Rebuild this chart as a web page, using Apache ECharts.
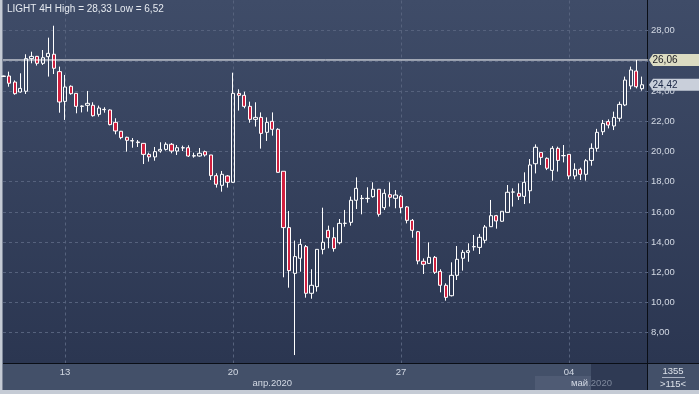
<!DOCTYPE html>
<html><head><meta charset="utf-8">
<script src="https://cdn.jsdelivr.net/npm/echarts@6/dist/echarts.min.js"></script>
<style>
html,body{margin:0;padding:0;background:#c5cbd5;}
#wrap{position:relative;width:699px;height:394px;overflow:hidden;background:#c5cbd5;}
.p{position:absolute;}
#chart{position:absolute;left:0;top:0;width:699px;height:394px;}
</style></head><body>
<div id="wrap">
 <div class="p" style="left:2px;top:0;width:646px;height:363px;background:linear-gradient(#3f4c68,#2b3651)"></div>
 <div class="p" style="left:648px;top:0;width:51px;height:363px;background:linear-gradient(#3f4c68,#2b3651)"></div>
 <div class="p" style="left:2px;top:363px;width:697px;height:27px;background:#435069"></div>
 <div class="p" style="left:535px;top:376px;width:56px;height:14px;background:#4f5b74"></div>
 <div class="p" style="left:591px;top:364px;width:56px;height:26px;background:#2f3a54"></div>
 <div class="p" style="left:2px;top:363px;width:697px;height:1px;background:#0a0e16"></div>
 <div class="p" style="left:647px;top:0;width:1px;height:390px;background:#0a0e16"></div>
 <div class="p" style="left:2px;top:0;width:1px;height:390px;background:#7f889a"></div>
 <div id="chart"></div>
</div>
<script>
const symbolName = 'LIGHT 4H';
const opens = [24.97,25.00,24.60,23.94,23.99,26.15,26.30,25.84,26.28,26.44,
25.29,23.32,24.32,23.85,22.99,23.06,23.06,22.46,22.79,22.75,
21.93,21.34,20.94,20.72,20.63,20.54,19.81,19.64,20.03,20.14,
20.48,20.03,20.25,20.25,19.70,19.70,19.99,19.77,18.40,17.76,
18.38,17.96,23.85,23.72,22.99,22.13,22.26,21.27,22.00,21.47,
18.69,14.96,11.93,12.93,13.70,10.61,11.05,13.52,14.78,14.29,
13.96,15.24,15.31,16.77,16.88,16.88,17.01,17.50,16.28,17.14,
16.90,17.03,16.33,15.44,14.69,12.73,12.59,12.99,12.06,11.14,
10.45,11.80,12.93,13.32,13.69,13.65,14.12,15.02,15.75,15.38,
15.97,17.31,17.23,17.03,17.40,19.19,19.94,19.55,18.75,20.21,
19.72,19.81,18.38,18.82,18.49,19.41,20.21,21.31,21.98,21.69,
22.20,23.08,24.34,25.33,24.16];
const closes = [25.00,24.52,23.83,24.18,26.15,26.30,25.84,26.21,26.50,25.51,
23.28,24.27,23.83,22.99,23.01,23.19,22.37,22.88,22.77,21.78,
21.36,20.92,20.74,20.70,20.59,19.81,19.64,19.99,20.14,20.48,
20.03,20.25,20.24,19.70,19.72,19.88,19.77,18.40,17.83,18.49,
17.96,23.85,23.72,22.99,22.13,22.26,21.20,21.93,21.47,18.62,
14.96,12.11,13.04,13.85,10.61,11.14,13.52,13.99,14.29,13.57,
15.24,15.25,16.77,17.56,16.90,16.90,17.50,15.84,17.23,16.97,
17.12,16.28,15.44,14.78,12.75,12.53,12.99,12.00,11.14,10.34,
11.80,12.86,13.32,13.43,13.70,14.32,15.00,15.75,15.40,16.04,
17.30,17.32,17.03,17.96,19.11,20.28,19.61,18.89,20.21,19.41,
19.73,18.38,18.82,18.49,19.39,20.21,21.27,21.86,21.75,22.26,
23.12,24.73,25.40,24.29,24.42];
const lows = [24.95,24.29,23.76,23.90,23.81,25.84,25.69,25.73,24.96,25.13,
22.57,22.09,23.76,22.53,22.59,22.64,22.31,22.31,22.57,21.73,
21.14,20.81,19.99,20.25,20.30,19.17,19.33,19.39,19.92,20.06,
19.88,19.77,20.03,19.64,19.59,19.66,19.66,18.11,17.61,17.34,
17.61,17.92,22.71,22.86,21.91,21.65,20.19,20.70,21.05,18.60,
11.67,10.98,6.52,12.04,10.32,10.25,10.72,13.19,13.59,13.37,
13.85,15.02,15.09,16.19,15.84,16.61,16.94,15.69,16.13,16.35,
16.24,15.91,15.24,14.29,12.53,11.89,12.55,11.89,10.67,10.12,
10.40,11.49,12.11,12.70,13.43,13.21,13.92,15.00,14.89,15.35,
15.95,16.35,16.79,16.52,16.57,18.55,19.11,18.77,18.07,18.67,
19.28,18.16,18.16,18.11,18.07,19.06,19.99,21.09,21.53,21.42,
21.98,23.01,24.12,24.18,24.03];
const highs = [25.02,25.29,24.71,25.18,26.44,26.61,26.33,26.72,27.54,28.33,
25.62,25.07,24.38,23.85,23.05,24.01,23.26,23.04,22.93,22.79,
22.20,21.36,20.98,20.89,20.76,20.54,19.92,20.30,20.61,20.61,
20.56,20.43,20.39,20.41,19.92,20.23,20.06,19.77,18.56,18.71,
18.44,25.22,24.12,23.96,23.30,23.26,22.59,22.26,22.59,21.54,
18.69,16.06,14.10,14.21,13.81,12.20,13.52,16.28,15.09,14.98,
15.53,16.13,17.01,18.29,17.12,17.63,17.96,17.50,17.50,17.96,
17.45,17.12,16.39,15.53,14.74,12.92,13.98,13.08,12.20,11.27,
12.66,13.74,13.48,13.92,14.47,14.54,15.13,16.79,15.80,16.04,
17.78,17.56,17.89,18.62,19.50,20.47,19.94,19.61,20.36,20.32,
20.43,19.81,19.22,18.93,19.50,20.54,21.50,22.09,22.13,22.64,
23.30,24.96,25.62,26.06,24.96];
const levelLine = 26.06;
const tradingDays = ['04-08','04-09','04-13','04-14','04-15','04-16','04-17',
 '04-20','04-21','04-22','04-23','04-24','04-27','04-28','04-29','04-30','05-01',
 '05-04','05-05','05-06'];
const firstDayBars = 5;
const weekStarts = ['04-13','04-20','04-27','05-04'];
const monthNames = {'04':'апр.2020','05':'май.2020'};
const yTicks = [8,10,12,14,16,18,20,22,24,26,28];
const bottomInfo = '1355';

const N = opens.length;
const hours = ['00','04','08','12','16','20'];
const cats = [];
tradingDays.forEach((d, k) => {
  const hs = k === 0 ? hours.slice(6 - firstDayBars) : hours;
  hs.forEach(h => { if (cats.length < N) cats.push(d + ' ' + h); });
});
const fmt = v => v.toFixed(2).replace('.', ',');
const weekFn = (i, v) => v.endsWith(' 00') && weekStarts.includes(v.slice(0, 5));
const monthCenters = {};
Object.keys(monthNames).forEach(m => {
  const idx = cats.map((c, i) => c.startsWith(m) ? i : -1).filter(i => i >= 0);
  if (idx.length) monthCenters[Math.round((idx[0] + idx[idx.length - 1] + 1) / 2)] = m;
});
const lastClose = closes[N - 1];
const hi = Math.max(...highs), lo = Math.min(...lows);
const FONT = "'Liberation Sans', Arial, sans-serif";
const gridColor = '#56627d';
const txtColor = '#d3d9e4';

const chart = echarts.init(document.getElementById('chart'));
chart.setOption({
  backgroundColor: 'transparent',
  animation: false,
  title: { text: `${symbolName} High = ${fmt(hi)} Low = ${fmt(lo)}`, left: 2, top: -1,
    textStyle: { color: '#e6eaf0', fontSize: 10, fontWeight: 'normal', fontFamily: FONT } },
  grid: [
    { left: 3.5, right: 57.1, top: 0.5, bottom: 31.1 },
    { left: 3, right: 51, top: 0.5, bottom: 31.1 }
  ],
  xAxis: [
    { type: 'category', gridIndex: 0, data: cats, boundaryGap: false,
      axisLine: { show: false }, axisTick: { show: false },
      axisLabel: { interval: weekFn, formatter: v => v.slice(3, 5), color: txtColor, fontSize: 9.5, fontFamily: FONT, margin: 4 },
      splitLine: { show: true, interval: weekFn, lineStyle: { color: gridColor, type: [3, 3], width: 1 } } },
    { type: 'value', gridIndex: 1, min: 0, max: 1, show: false },
    { type: 'category', gridIndex: 0, data: cats, boundaryGap: false, position: 'bottom', offset: 11,
      axisLine: { show: false }, axisTick: { show: false }, splitLine: { show: false },
      axisLabel: { interval: (i) => monthCenters[i] !== undefined, fontSize: 9.5, fontFamily: FONT, margin: 4,
        formatter: (v) => {
          const m = v.slice(0, 2); const name = monthNames[m];
          return m === '05' ? '{a|' + name.slice(0, 3) + '}{b|' + name.slice(3) + '}' : '{a|' + name + '}';
        },
        rich: { a: { color: txtColor, fontSize: 9.5, fontFamily: FONT }, b: { color: '#7e889c', fontSize: 9.5, fontFamily: FONT } } } }
  ],
  yAxis: [
    { type: 'value', gridIndex: 0, min: 6, max: 30, interval: 2, show: false },
    { type: 'value', gridIndex: 1, min: 6, max: 30, interval: 2, position: 'right',
      axisLine: { show: false }, axisTick: { show: false },
      axisLabel: { margin: 3, color: txtColor, fontSize: 9.5, fontFamily: FONT,
        formatter: v => yTicks.includes(v) ? fmt(v) : '' },
      splitLine: { show: true, showMinLine: false, showMaxLine: false, lineStyle: { color: gridColor, type: [3, 3], width: 1 } } }
  ],
  series: [
    { type: 'candlestick', xAxisIndex: 0, yAxisIndex: 0, clip: true, barWidth: 3.6, z: 3,
      data: opens.map((o, i) => [o, closes[i], lows[i], highs[i]]),
      itemStyle: { color: 'rgba(0,0,0,0)', color0: '#d0203f', borderColor: '#ffffff', borderColor0: '#ffffff', borderColorDoji: '#ffffff', borderWidth: 1 } },
    { type: 'line', xAxisIndex: 1, yAxisIndex: 1, symbol: 'none', z: 4,
      data: [[0, levelLine], [1, levelLine]], lineStyle: { color: '#ffffff', width: 1 },
      markPoint: { symbol: 'path://M0,6L4,0L50,0L50,12L4,12Z', symbolSize: [50, 12], symbolKeepAspect: false, symbolOffset: [26, 0],
        data: [{ coord: [1, levelLine] }], itemStyle: { color: '#dcdcc2' },
        label: { show: true, position: 'inside', formatter: fmt(levelLine), color: '#1a1a22', fontSize: 10, fontFamily: FONT, offset: [-9, 0] } } },
    { type: 'line', xAxisIndex: 1, yAxisIndex: 1, symbol: 'none', z: 4,
      data: [[1, lastClose]], lineStyle: { width: 0 },
      markPoint: { symbol: 'path://M0,6L4,0L50,0L50,12L4,12Z', symbolSize: [50, 12], symbolKeepAspect: false, symbolOffset: [26, 0],
        data: [{ coord: [1, lastClose] }], itemStyle: { color: '#c9cfda' },
        label: { show: true, position: 'inside', formatter: fmt(lastClose), color: '#1e2a48', fontSize: 10, fontFamily: FONT, offset: [-9, 0] } } }
  ],
  graphic: [
    { type: 'text', x: 673, y: 371, style: { text: bottomInfo, fill: '#dde2ea', font: '9.5px ' + FONT, align: 'center', verticalAlign: 'middle' } },
    { type: 'line', shape: { x1: 662, y1: 377.5, x2: 685, y2: 377.5 }, style: { stroke: '#aab2c2', lineWidth: 1 } },
    { type: 'text', x: 673, y: 384, style: { text: '>' + N + '<', fill: '#dde2ea', font: '9.5px ' + FONT, align: 'center', verticalAlign: 'middle' } }
  ]
});
</script>
</body></html>
